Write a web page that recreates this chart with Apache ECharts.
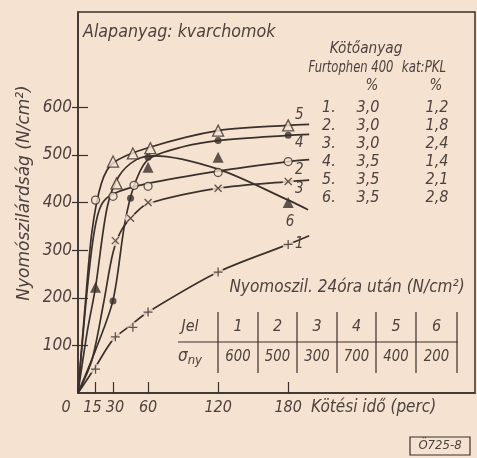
<!DOCTYPE html>
<html><head><meta charset="utf-8">
<script src="https://cdn.jsdelivr.net/npm/echarts@6/dist/echarts.min.js"></script>
<style>html,body{margin:0;padding:0;background:#f5e2d0;}#c{width:477px;height:458px;}</style>
</head><body><div id="c"></div>
<script>
const BG = '#f5e2d0', INK = '#3a302c', TXT = '#4d423e';
const FONT = '"DejaVu Sans Condensed","DejaVu Sans",sans-serif';

// axis ticks
const xTickLabels = [0, 15, 30, 60, 120, 180];
const xTicks = [15, 30, 60, 120, 180];
const yTickLabels = [100, 200, 300, 400, 500, 600];

// curve paths: [kötési idő (perc), nyomószilárdság (N/cm2)]
const curve1 = [[0,0],[15,55],[30,112],[45,142],[60,170],[120,254],[180,312],[198,330]];
const curve2 = [[0,0],[8,220],[14,340],[20,395],[30,418],[60,440],[120,466],[180,486],[198,490]];
const curve3 = [[0,0],[12,70],[22,190],[30,295],[38,345],[50,380],[60,398],[120,430],[180,444],[198,447]];
const curve4 = [[0,0],[15,90],[30,195],[40,355],[48,435],[60,490],[90,517],[120,530],[180,541],[198,543]];
const curve5 = [[0,0],[6,180],[12,340],[20,440],[30,483],[60,515],[120,551],[180,562],[198,564]];
const curve6 = [[0,0],[8,130],[15,222],[25,390],[35,455],[50,490],[65,498],[120,470],[180,405],[197,385]];

// measured points (markers)
const marks1 = [[15,50],[32,118],[47,138],[60,170],[120,254],[180,312]];
const marks2 = [[15,405],[30,413],[48,436],[60,434],[120,463],[180,486]];
const marks3 = [[32,320],[45,367],[60,400],[120,430],[180,444]];
const marks4 = [[30,193],[45,409],[60,495],[120,530],[180,541]];
const marks5 = [[30,486],[33,440],[47,503],[62,514],[120,551],[180,562]];
const marks6 = [[15,222],[60,474],[120,495],[180,400]];

// legend (Kötőanyag) and table
const curveNames = ['1','2','3','4','5','6'];
const furtophen = ['3,0','3,0','3,0','3,5','3,5','3,5'];
const katPKL = ['1,2','1,8','2,4','1,4','2,1','2,8'];
const tableJel = ['1','2','3','4','5','6'];
const tableSigma = ['600','500','300','700','400','200'];

const curves = [curve1, curve2, curve3, curve4, curve5, curve6];
const marks = [marks1, marks2, marks3, marks4, marks5, marks6];
const endOffsets = [[-10,8],[-10,10],[-10,9],[-10,9],[-10,-9],[-18,12]];
const symbols = [
  {symbol:'path://M5,0L5,10M0,5L10,5', size:9, style:{color:'none', borderColor:INK, borderWidth:1.3}, mask:true},
  {symbol:'circle', size:8, style:{color:BG, borderColor:INK, borderWidth:1.3}},
  {symbol:'path://M0,0L10,10M10,0L0,10', size:7, style:{color:'none', borderColor:INK, borderWidth:1.3}, mask:true},
  {symbol:'circle', size:7, style:{color:INK}},
  {symbol:'triangle', size:11, style:{color:BG, borderColor:INK, borderWidth:1.3}},
  {symbol:'triangle', size:11, style:{color:INK}}
];

const tStyle = (size) => ({fontFamily: FONT, fontStyle: 'italic', fontSize: size, fill: TXT});

const series = [];
curves.forEach((c, i) => {
  series.push({
    type: 'line', data: c, smooth: 0.3, showSymbol: false, z: 2,
    lineStyle: {color: INK, width: 1.7},
    endLabel: {show: true, formatter: curveNames[i], offset: endOffsets[i], align: 'center', verticalAlign: 'middle',
      fontFamily: FONT, fontStyle: 'italic', fontSize: 15, color: TXT, distance: 0},
    silent: true
  });
});
marks.forEach((m, i) => {
  const s = symbols[i];
  if (s.mask) {
    series.push({type: 'scatter', data: m, symbol: 'circle', symbolSize: 11, z: 3, itemStyle: {color: BG}, silent: true});
  }
  series.push({type: 'scatter', data: m, symbol: s.symbol, symbolSize: s.size, z: 4, itemStyle: s.style, silent: true});
});

const graphics = [];
function txt(x, y, text, size, align, sx) {
  graphics.push({type: 'text', x: x, y: y, z: 10, scaleX: sx || 1,
    style: Object.assign(tStyle(size), {text: text, align: align || 'center', verticalAlign: 'middle'})});
}
function line(x1, y1, x2, y2, w) {
  graphics.push({type: 'line', z: 10, shape: {x1, y1, x2, y2}, style: {stroke: INK, lineWidth: w || 1.2}});
}
// titles
txt(83, 33, 'Alapanyag: kvarchomok', 17, 'left', 1.04);
graphics.push({type: 'text', x: 24, y: 193, rotation: Math.PI / 2, z: 10, scaleX: 1.05,
  style: Object.assign(tStyle(18), {text: 'Nyomószilárdság (N/cm²)', align: 'center', verticalAlign: 'middle'})});
txt(311, 408, 'Kötési idő (perc)', 17, 'left');
// Kötőanyag legend
txt(366, 49, 'Kötőanyag', 16, 'center', 0.95);
txt(351, 68, 'Furtophen 400', 15, 'center', 0.86);
txt(424, 68, 'kat:PKL', 15, 'center', 0.88);
txt(372, 86, '%', 15);
txt(436, 86, '%', 15);
curveNames.forEach((n, i) => {
  const y = 108 + i * 18;
  txt(322, y, n + '.', 16, 'left');
  txt(368, y, furtophen[i], 16);
  txt(437, y, katPKL[i], 16);
});
// 24 h table
txt(347, 288, 'Nyomoszil. 24óra után (N/cm²)', 17);
txt(190, 327, 'Jel', 16);
graphics.push({type: 'text', x: 190, y: 357, z: 10, style: {
  text: '{a|σ}{b|ny}', align: 'center', verticalAlign: 'middle',
  rich: {a: {fontFamily: FONT, fontStyle: 'italic', fontSize: 17, fill: TXT},
         b: {fontFamily: FONT, fontStyle: 'italic', fontSize: 13, fill: TXT, padding: [8, 0, 0, 0]}}}});
const colX = [218, 258, 297, 337, 376, 416, 457];
colX.forEach(x => line(x, 312, x, 373, 1.2));
line(178, 342, 458, 342, 1.2);
tableJel.forEach((j, i) => {
  const cx = (colX[i] + colX[i + 1]) / 2;
  txt(cx, 327, j, 16);
  txt(cx, 357, tableSigma[i], 16, 'center', 0.92);
});
// drawing number box
graphics.push({type: 'rect', z: 10, shape: {x: 410, y: 437, width: 60, height: 18}, style: {fill: 'none', stroke: INK, lineWidth: 1.2}});
txt(440, 446, 'Ö725-8', 13);

const labelBase = {fontFamily: FONT, fontStyle: 'italic', fontSize: 17, color: TXT};
const xLab = Object.assign({}, labelBase, {fontSize: 16});
const option = {
  animation: false,
  backgroundColor: BG,
  grid: {left: 78, right: 2, top: 12, bottom: 65, show: true, borderColor: INK, borderWidth: 1.5, backgroundColor: 'transparent'},
  xAxis: {
    type: 'value', min: 0, max: 340,
    axisLine: {show: true, lineStyle: {color: INK, width: 1.5}},
    axisTick: {show: true, inside: true, length: 11, customValues: xTicks, lineStyle: {color: INK, width: 1.2}},
    axisLabel: Object.assign({}, xLab, {customValues: xTickLabels, margin: 7,
      formatter: v => v === 0 ? '{o|0}' : v === 15 ? '{a|15}' : v === 30 ? '{b|30}' : String(v),
      rich: {o: Object.assign({}, xLab, {padding: [0, 24, 0, 0]}),
             a: Object.assign({}, xLab, {padding: [0, 6, 0, 0]}),
             b: Object.assign({}, xLab, {padding: [0, 0, 0, 4]})}}),
    splitLine: {show: false}
  },
  yAxis: [{
    type: 'value', min: 0, max: 800,
    axisLine: {show: true, lineStyle: {color: INK, width: 1.5}},
    axisTick: {show: true, inside: false, length: 6, customValues: yTickLabels, lineStyle: {color: INK, width: 1.2}},
    axisLabel: Object.assign({}, labelBase, {customValues: yTickLabels, margin: 6}),
    splitLine: {show: false}
  }, {
    type: 'value', min: 0, max: 800, position: 'left',
    axisLine: {show: false},
    axisTick: {show: true, inside: true, length: 10, customValues: yTickLabels, lineStyle: {color: INK, width: 1.2}},
    axisLabel: {show: false},
    splitLine: {show: false}
  }],
  series: series,
  graphic: graphics
};
const chart = echarts.init(document.getElementById('c'), null, {renderer: 'canvas'});
chart.setOption(option);
</script></body></html>
